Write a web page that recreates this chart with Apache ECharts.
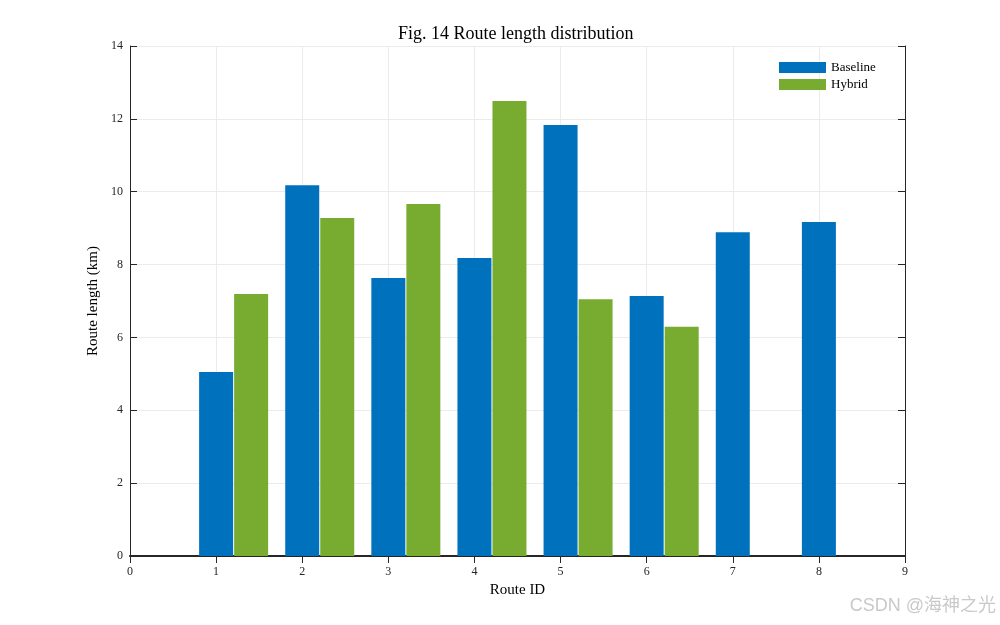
<!DOCTYPE html>
<html>
<head>
<meta charset="utf-8">
<script src="https://cdn.jsdelivr.net/npm/echarts@6/dist/echarts.min.js"></script>
<style>
    html, body { margin: 0; padding: 0; background: #fff; }
    #chart { width: 1000px; height: 625px; }
</style>
</head>
<body>
<div id="chart"></div>
<script>
var routeIds = ['0', '1', '2', '3', '4', '5', '6', '7', '8', '9'];
var baselineLen = [null, 5.05, 10.18, 7.63, 8.18, 11.83, 7.14, 8.89, 9.17, null];
var hybridLen = [null, 7.19, 9.28, 9.66, 12.49, 7.05, 6.29, 0, 0, null];
var yTicks = { min: 0, max: 14, step: 2 };

var serif = 'Liberation Serif';
var ink = '#262626';

var myChart = echarts.init(document.getElementById('chart'));

var option = {
    backgroundColor: '#fff',
    animation: false,
    title: {
        text: 'Fig. 14 Route length distribution',
        left: 398,
        top: 25,
        padding: 0,
        textStyle: { fontFamily: serif, fontSize: 18, fontWeight: 'normal', color: '#000' }
    },
    legend: {
        data: ['Baseline', 'Hybrid'],
        orient: 'vertical',
        left: 779,
        top: 61,
        padding: 0,
        itemWidth: 47,
        itemHeight: 11,
        itemGap: 4,
        icon: 'rect',
        textStyle: { fontFamily: serif, fontSize: 13, color: '#000' }
    },
    grid: { left: 130, right: 95, top: 46, bottom: 69, containLabel: false },
    xAxis: [
        {
            type: 'category',
            data: routeIds,
            boundaryGap: false,
            name: 'Route ID',
            nameLocation: 'middle',
            nameGap: 27,
            nameTextStyle: { fontFamily: serif, fontSize: 15, color: '#000' },
            axisLine: { lineStyle: { color: ink, width: 2 } },
            axisTick: { inside: true, length: 7, lineStyle: { color: ink } },
            axisLabel: { fontFamily: serif, fontSize: 12, color: ink, margin: 10 },
            splitLine: { show: true, lineStyle: { color: '#ebebeb' } }
        },
        {
            type: 'category',
            data: routeIds,
            boundaryGap: false,
            position: 'top',
            axisLine: { lineStyle: { color: ink, width: 1 } },
            axisTick: { inside: true, length: 7, lineStyle: { color: ink } },
            axisLabel: { show: false },
            splitLine: { show: false }
        }
    ],
    yAxis: [
        {
            type: 'value',
            min: yTicks.min,
            max: yTicks.max,
            interval: yTicks.step,
            name: 'Route length (km)',
            nameLocation: 'middle',
            nameGap: 25,
            nameTextStyle: { fontFamily: serif, fontSize: 15, color: '#000' },
            axisLine: { show: true, lineStyle: { color: ink } },
            axisTick: { show: true, inside: true, length: 7, lineStyle: { color: ink } },
            axisLabel: { fontFamily: serif, fontSize: 12, color: ink, margin: 7 },
            splitLine: { show: true, lineStyle: { color: '#ebebeb' } }
        },
        {
            type: 'value',
            min: yTicks.min,
            max: yTicks.max,
            interval: yTicks.step,
            position: 'right',
            axisLine: { show: true, lineStyle: { color: ink } },
            axisTick: { show: true, inside: true, length: 7, lineStyle: { color: ink } },
            axisLabel: { show: false },
            splitLine: { show: false }
        }
    ],
    graphic: [
        {
            type: 'text',
            right: 4,
            top: 597,
            style: {
                text: 'CSDN @海神之光',
                font: '18px "Liberation Sans", "Noto Sans CJK SC"',
                fill: '#c9c9c9'
            }
        }
    ],
    series: [
        // empty spacer so Baseline sits on the tick and Hybrid to its right
        { name: 'spacer', type: 'bar', barWidth: 34, barGap: '3%', data: [] },
        {
            name: 'Baseline',
            type: 'bar',
            barWidth: 34,
            barGap: '3%',
            itemStyle: { color: '#0072BD' },
            data: baselineLen
        },
        {
            name: 'Hybrid',
            type: 'bar',
            barWidth: 34,
            barGap: '3%',
            itemStyle: { color: '#77AC30' },
            data: hybridLen
        }
    ]
};

myChart.setOption(option);
</script>
</body>
</html>
